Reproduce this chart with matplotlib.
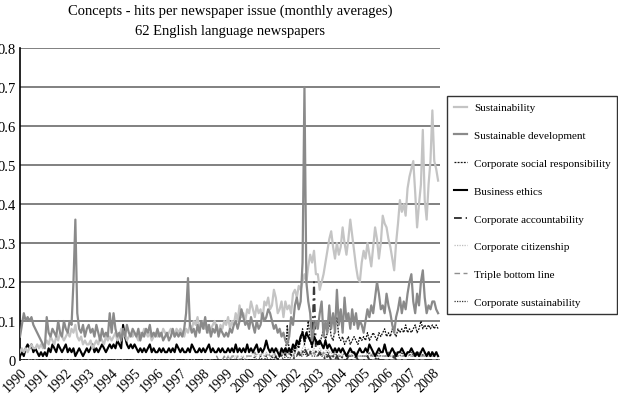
import matplotlib
matplotlib.use("Agg")
import matplotlib.pyplot as plt
import numpy as np

# ---- data: monthly averages, Jan 1990 .. Apr 2008 (220 months) ----
start_year = 1990
year_ticks = list(range(1990, 2009))
tick_labels = [str(y) for y in year_ticks]

sustainability = [
    0.02, 0.03, 0.02, 0.03, 0.02, 0.03, 0.04, 0.03, 0.03, 0.04, 0.03, 0.04,
    0.03, 0.04, 0.05, 0.04, 0.06, 0.05, 0.04, 0.06, 0.05, 0.07, 0.06, 0.05,
    0.06, 0.07, 0.06, 0.08, 0.07, 0.09, 0.06, 0.05, 0.06, 0.04, 0.05, 0.04,
    0.04, 0.05, 0.03, 0.04, 0.05, 0.04, 0.06, 0.05, 0.04, 0.06, 0.05, 0.06,
    0.05, 0.06, 0.07, 0.05, 0.06, 0.08, 0.06, 0.07, 0.05, 0.06, 0.07, 0.06,
    0.07, 0.06, 0.05, 0.07, 0.06, 0.08, 0.07, 0.06, 0.07, 0.05, 0.06, 0.07,
    0.06, 0.07, 0.06, 0.08, 0.07, 0.06, 0.07, 0.08, 0.07, 0.06, 0.08, 0.07,
    0.08, 0.07, 0.06, 0.08, 0.07, 0.09, 0.08, 0.10, 0.09, 0.11, 0.08, 0.09,
    0.10, 0.08, 0.09, 0.07, 0.08, 0.09, 0.10, 0.08, 0.07, 0.09, 0.08, 0.10,
    0.09, 0.11, 0.08, 0.10, 0.09, 0.12, 0.10, 0.14, 0.11, 0.12, 0.10, 0.13,
    0.12, 0.15, 0.13, 0.11, 0.14, 0.12, 0.13, 0.10, 0.15, 0.14, 0.16, 0.13,
    0.14, 0.18, 0.16, 0.12, 0.13, 0.15, 0.11, 0.15, 0.13, 0.14, 0.12, 0.17,
    0.18, 0.16, 0.19, 0.18, 0.20, 0.22, 0.20, 0.24, 0.27, 0.25, 0.28, 0.22,
    0.22, 0.18, 0.20, 0.22, 0.25, 0.28, 0.31, 0.33, 0.29, 0.26, 0.30, 0.27,
    0.29, 0.34, 0.30, 0.27, 0.31, 0.36, 0.32, 0.28, 0.24, 0.21, 0.20, 0.25,
    0.28, 0.26, 0.30, 0.27, 0.24, 0.29, 0.34, 0.31, 0.26, 0.30, 0.37, 0.35,
    0.34, 0.31, 0.29, 0.26, 0.23, 0.30, 0.35, 0.41, 0.38, 0.40, 0.37, 0.44,
    0.47, 0.49, 0.51, 0.43, 0.34, 0.40, 0.45, 0.59, 0.41, 0.36, 0.45, 0.51,
    0.64, 0.51, 0.49, 0.46,
]

sustainable_development = [
    0.06, 0.09, 0.12, 0.10, 0.11, 0.10, 0.11, 0.09, 0.08, 0.07, 0.06, 0.05,
    0.04, 0.03, 0.11, 0.07, 0.06, 0.08, 0.07, 0.06, 0.10, 0.07, 0.06, 0.10,
    0.08, 0.07, 0.10, 0.09, 0.20, 0.36, 0.12, 0.08, 0.07, 0.09, 0.06, 0.08,
    0.09, 0.07, 0.08, 0.06, 0.09, 0.07, 0.05, 0.08, 0.06, 0.07, 0.06, 0.12,
    0.07, 0.12, 0.08, 0.06, 0.07, 0.05, 0.08, 0.06, 0.09, 0.07, 0.06, 0.08,
    0.07, 0.06, 0.08, 0.05, 0.07, 0.06, 0.08, 0.07, 0.09, 0.06, 0.07, 0.06,
    0.08, 0.06, 0.07, 0.05, 0.06, 0.07, 0.05, 0.06, 0.08, 0.06, 0.07, 0.06,
    0.07, 0.06, 0.08, 0.12, 0.21, 0.09, 0.07, 0.08, 0.06, 0.09, 0.07, 0.10,
    0.08, 0.11, 0.07, 0.09, 0.06, 0.08, 0.07, 0.09, 0.06, 0.08, 0.07, 0.06,
    0.07, 0.06, 0.08, 0.07, 0.09, 0.10, 0.08, 0.10, 0.13, 0.11, 0.09, 0.10,
    0.08, 0.11, 0.09, 0.07, 0.10, 0.08, 0.09, 0.12, 0.10, 0.11, 0.13, 0.12,
    0.10, 0.08, 0.09, 0.07, 0.08, 0.06, 0.07, 0.05, 0.04, 0.06, 0.11, 0.09,
    0.14, 0.16, 0.13, 0.15, 0.25, 0.70, 0.20, 0.15, 0.12, 0.05, 0.08, 0.10,
    0.08, 0.12, 0.15, 0.06, 0.10, 0.07, 0.14, 0.08, 0.12, 0.07, 0.18, 0.09,
    0.13, 0.07, 0.16, 0.10, 0.12, 0.08, 0.13, 0.09, 0.12, 0.08, 0.10, 0.09,
    0.07, 0.10, 0.13, 0.11, 0.14, 0.12, 0.16, 0.20, 0.17, 0.13, 0.14, 0.12,
    0.17, 0.14, 0.12, 0.09, 0.07, 0.11, 0.13, 0.16, 0.12, 0.15, 0.13, 0.17,
    0.20, 0.22, 0.15, 0.12, 0.17, 0.14, 0.20, 0.23, 0.16, 0.12, 0.14, 0.13,
    0.15, 0.15, 0.13, 0.12,
]

csr = [0.0] * 108 + [
    0.0, 0.0, 0.0, 0.0, 0.0, 0.0, 0.0, 0.0, 0.0, 0.0, 0.0, 0.0,
    0.0, 0.0, 0.0, 0.0, 0.0, 0.0, 0.0, 0.0, 0.0, 0.0, 0.0, 0.0,
    0.00, 0.00, 0.01, 0.00, 0.01, 0.01, 0.02, 0.01, 0.09, 0.02, 0.01, 0.03,
    0.02, 0.04, 0.03, 0.05, 0.08, 0.04, 0.06, 0.10, 0.05, 0.03, 0.07, 0.04,
    0.05, 0.04, 0.06, 0.08, 0.05, 0.07, 0.10, 0.06, 0.05, 0.08, 0.11, 0.06,
    0.05, 0.06, 0.04, 0.05, 0.06, 0.04, 0.05, 0.06, 0.05, 0.04, 0.06, 0.05,
    0.06, 0.05, 0.07, 0.05, 0.06, 0.07, 0.06, 0.05, 0.07, 0.06, 0.07, 0.08,
    0.06, 0.07, 0.06, 0.08, 0.07, 0.06, 0.08, 0.07, 0.08, 0.07, 0.09, 0.07,
    0.08, 0.07, 0.08, 0.09, 0.07, 0.08, 0.10, 0.08, 0.09, 0.08, 0.09, 0.08,
    0.09, 0.08, 0.09, 0.08,
]

business_ethics = [
    0.01, 0.02, 0.01, 0.03, 0.04, 0.03, 0.04, 0.02, 0.03, 0.02, 0.01, 0.02,
    0.01, 0.02, 0.01, 0.03, 0.02, 0.04, 0.03, 0.02, 0.04, 0.03, 0.02, 0.03,
    0.04, 0.02, 0.03, 0.02, 0.03, 0.01, 0.02, 0.03, 0.02, 0.01, 0.02, 0.03,
    0.02, 0.03, 0.04, 0.02, 0.03, 0.02, 0.03, 0.04, 0.03, 0.02, 0.03, 0.04,
    0.03, 0.04, 0.03, 0.05, 0.04, 0.03, 0.09, 0.06, 0.04, 0.03, 0.04, 0.03,
    0.04, 0.03, 0.02, 0.03, 0.02, 0.03, 0.02, 0.03, 0.04, 0.02, 0.03, 0.02,
    0.02, 0.03, 0.02, 0.03, 0.02, 0.02, 0.03, 0.02, 0.03, 0.02, 0.04, 0.03,
    0.02, 0.03, 0.02, 0.02, 0.03, 0.02, 0.04, 0.03, 0.02, 0.02, 0.03, 0.02,
    0.03, 0.02, 0.03, 0.04, 0.02, 0.03, 0.02, 0.02, 0.03, 0.02, 0.03, 0.02,
    0.02, 0.03, 0.02, 0.03, 0.02, 0.04, 0.02, 0.03, 0.02, 0.03, 0.02, 0.04,
    0.02, 0.03, 0.02, 0.03, 0.04, 0.02, 0.03, 0.02, 0.03, 0.05, 0.03, 0.02,
    0.03, 0.02, 0.03, 0.02, 0.01, 0.03, 0.02, 0.03, 0.02, 0.03, 0.02, 0.04,
    0.03, 0.05, 0.04, 0.06, 0.07, 0.05, 0.07, 0.06, 0.05, 0.04, 0.06, 0.05,
    0.04, 0.05, 0.04, 0.03, 0.05, 0.03, 0.04, 0.03, 0.02, 0.03, 0.02, 0.03,
    0.02, 0.03, 0.02, 0.01, 0.02, 0.03, 0.02, 0.02, 0.01, 0.02, 0.03, 0.02,
    0.02, 0.03, 0.02, 0.04, 0.03, 0.02, 0.01, 0.02, 0.03, 0.02, 0.02, 0.04,
    0.02, 0.01, 0.02, 0.03, 0.02, 0.01, 0.02, 0.02, 0.03, 0.02, 0.01, 0.02,
    0.02, 0.03, 0.02, 0.01, 0.02, 0.01, 0.02, 0.03, 0.02, 0.01, 0.02, 0.01,
    0.02, 0.01, 0.02, 0.01,
]

corporate_accountability = [0.0] * 144 + [
    0.01, 0.01, 0.02, 0.01, 0.02, 0.03, 0.02, 0.01, 0.02, 0.03, 0.20, 0.02,
    0.01, 0.02, 0.01, 0.01, 0.00, 0.01, 0.01, 0.00, 0.01, 0.00, 0.01, 0.00,
    0.00, 0.01, 0.00, 0.00, 0.01, 0.00, 0.00, 0.00, 0.01, 0.00, 0.00, 0.00,
    0.00, 0.00, 0.01, 0.00, 0.00, 0.00, 0.00, 0.01, 0.00, 0.00, 0.00, 0.00,
    0.00, 0.00, 0.00, 0.00, 0.01, 0.00, 0.00, 0.00, 0.00, 0.00, 0.00, 0.00,
    0.00, 0.00, 0.00, 0.00, 0.00, 0.00, 0.00, 0.00, 0.00, 0.00, 0.00, 0.00,
    0.00, 0.00, 0.00, 0.00,
]

corporate_citizenship = [0.0] * 108 + [
    0.00, 0.01, 0.00, 0.01, 0.00, 0.01, 0.01, 0.00, 0.01, 0.01, 0.00, 0.01,
    0.01, 0.01, 0.02, 0.01, 0.01, 0.02, 0.01, 0.02, 0.01, 0.02, 0.01, 0.02,
    0.02, 0.01, 0.02, 0.03, 0.02, 0.01, 0.02, 0.02, 0.03, 0.02, 0.01, 0.02,
    0.02, 0.03, 0.02, 0.02, 0.03, 0.04, 0.02, 0.03, 0.02, 0.02, 0.03, 0.02,
    0.02, 0.03, 0.02, 0.01, 0.02, 0.03, 0.02, 0.02, 0.01, 0.02, 0.02, 0.01,
    0.02, 0.01, 0.02, 0.01, 0.01, 0.02, 0.01, 0.01, 0.02, 0.01, 0.01, 0.01,
    0.01, 0.01, 0.02, 0.01, 0.01, 0.01, 0.01, 0.02, 0.01, 0.01, 0.01, 0.01,
    0.01, 0.01, 0.01, 0.01, 0.02, 0.01, 0.01, 0.01, 0.01, 0.01, 0.01, 0.01,
    0.01, 0.01, 0.01, 0.01, 0.01, 0.01, 0.01, 0.01, 0.01, 0.01, 0.01, 0.01,
    0.01, 0.01, 0.01, 0.01,
]

triple_bottom_line = [0.0] * 96 + [
    0.00, 0.00, 0.00, 0.00, 0.00, 0.00, 0.00, 0.01, 0.00, 0.00, 0.00, 0.01,
    0.00, 0.01, 0.00, 0.01, 0.01, 0.00, 0.01, 0.01, 0.00, 0.01, 0.01, 0.01,
    0.01, 0.01, 0.01, 0.02, 0.01, 0.01, 0.01, 0.02, 0.01, 0.01, 0.02, 0.01,
    0.01, 0.02, 0.01, 0.01, 0.02, 0.01, 0.01, 0.02, 0.01, 0.02, 0.01, 0.01,
    0.02, 0.01, 0.02, 0.01, 0.02, 0.03, 0.02, 0.01, 0.02, 0.01, 0.02, 0.01,
    0.01, 0.02, 0.01, 0.02, 0.01, 0.01, 0.02, 0.01, 0.01, 0.02, 0.01, 0.01,
    0.01, 0.01, 0.02, 0.01, 0.01, 0.01, 0.01, 0.02, 0.01, 0.01, 0.01, 0.01,
    0.01, 0.01, 0.01, 0.01, 0.01, 0.02, 0.01, 0.01, 0.01, 0.01, 0.01, 0.01,
    0.01, 0.01, 0.01, 0.01, 0.01, 0.01, 0.01, 0.01, 0.01, 0.01, 0.01, 0.01,
    0.01, 0.01, 0.01, 0.01, 0.01, 0.01, 0.01, 0.01, 0.01, 0.01, 0.01, 0.01,
    0.01, 0.01, 0.01, 0.01,
]

corporate_sustainability = [0.0] * 120 + [
    0.00, 0.00, 0.00, 0.01, 0.00, 0.00, 0.01, 0.00, 0.00, 0.01, 0.00, 0.00,
    0.01, 0.00, 0.01, 0.00, 0.01, 0.01, 0.00, 0.01, 0.01, 0.00, 0.01, 0.01,
    0.01, 0.01, 0.02, 0.01, 0.01, 0.02, 0.01, 0.01, 0.02, 0.01, 0.01, 0.01,
    0.01, 0.02, 0.01, 0.01, 0.01, 0.02, 0.01, 0.01, 0.01, 0.02, 0.01, 0.01,
    0.01, 0.01, 0.02, 0.01, 0.01, 0.01, 0.01, 0.02, 0.01, 0.01, 0.01, 0.01,
    0.01, 0.01, 0.01, 0.02, 0.01, 0.01, 0.01, 0.01, 0.02, 0.01, 0.01, 0.01,
    0.01, 0.02, 0.01, 0.01, 0.01, 0.02, 0.01, 0.01, 0.02, 0.01, 0.01, 0.02,
    0.01, 0.02, 0.01, 0.02, 0.01, 0.02, 0.02, 0.01, 0.02, 0.01, 0.02, 0.02,
    0.02, 0.01, 0.02, 0.02,
]

series_names = [
    "Sustainability", "Sustainable development", "Corporate social responsibility",
    "Business ethics", "Corporate accountability", "Corporate citizenship",
    "Triple bottom line", "Corporate sustainability",
]

# ---- plotting ----
plt.rcParams['font.family'] = ['Liberation Serif', 'DejaVu Serif']

fig = plt.figure(figsize=(6.18, 4.10), dpi=100)
W, H = 618, 410
ax = fig.add_axes([20 / W, (H - 361) / H, 420 / W, 312 / H])

n = len(sustainability)
x = start_year + np.arange(n) / 12.0

styles = [
    dict(color='#c4c4c4', lw=1.6, ls='-'),
    dict(color='#8a8a8a', lw=1.6, ls='-'),
    dict(color='#111111', lw=0.9, ls=(0, (1.5, 1))),
    dict(color='#000000', lw=1.5, ls='-'),
    dict(color='#3a3a3a', lw=1.4, ls=(0, (4, 2, 1, 2))),
    dict(color='#bdbdbd', lw=0.9, ls=(0, (1, 1))),
    dict(color='#8f8f8f', lw=1.0, ls=(0, (4, 2.5))),
    dict(color='#333333', lw=0.9, ls=(0, (1, 1))),
]
data = [sustainability, sustainable_development, csr, business_ethics,
        corporate_accountability, corporate_citizenship, triple_bottom_line,
        corporate_sustainability]

draw_order = [6, 7, 5, 4, 2, 3, 0, 1]
handles = {}
for k in draw_order:
    line, = ax.plot(x[:len(data[k])], data[k], label=series_names[k],
                    zorder=3, **styles[k])
    handles[k] = line

ax.set_xlim(start_year, start_year + n / 12.0)
ax.set_ylim(0, 0.8)
ax.set_yticks([0, 0.1, 0.2, 0.3, 0.4, 0.5, 0.6, 0.7, 0.8])
ax.set_yticklabels(['0', '0.1', '0.2', '0.3', '0.4', '0.5', '0.6', '0.7', '0.8'],
                   fontsize=10.5)
ax.set_xticks(year_ticks)
ax.set_xticklabels(tick_labels, rotation=45, ha='right', va='top',
                   rotation_mode='anchor', fontsize=10)
ax.tick_params(axis='both', length=0, pad=3)
ax.tick_params(axis='x', pad=4)

ax.grid(axis='y', color='#808080', lw=1.4, zorder=1)
ax.grid(axis='x', visible=False)
for s in ['top', 'right', 'bottom']:
    ax.spines[s].set_visible(False)
ax.spines['left'].set_color('black')
ax.spines['left'].set_linewidth(1.2)

ax.set_title("Concepts - hits per newspaper issue (monthly averages)\n"
             "62 English language newspapers", fontsize=10.5, pad=10,
             linespacing=1.75)

leg = ax.legend([handles[k] for k in range(8)], series_names,
                loc='upper left', bbox_to_anchor=(1.017, 0.846),
                frameon=True, fancybox=False, edgecolor='black',
                fontsize=8, handlelength=1.2, handletextpad=0.6,
                labelspacing=1.62, borderpad=0.6, borderaxespad=0)
leg.get_frame().set_linewidth(1.0)

fig.savefig("out.png", dpi=100)
